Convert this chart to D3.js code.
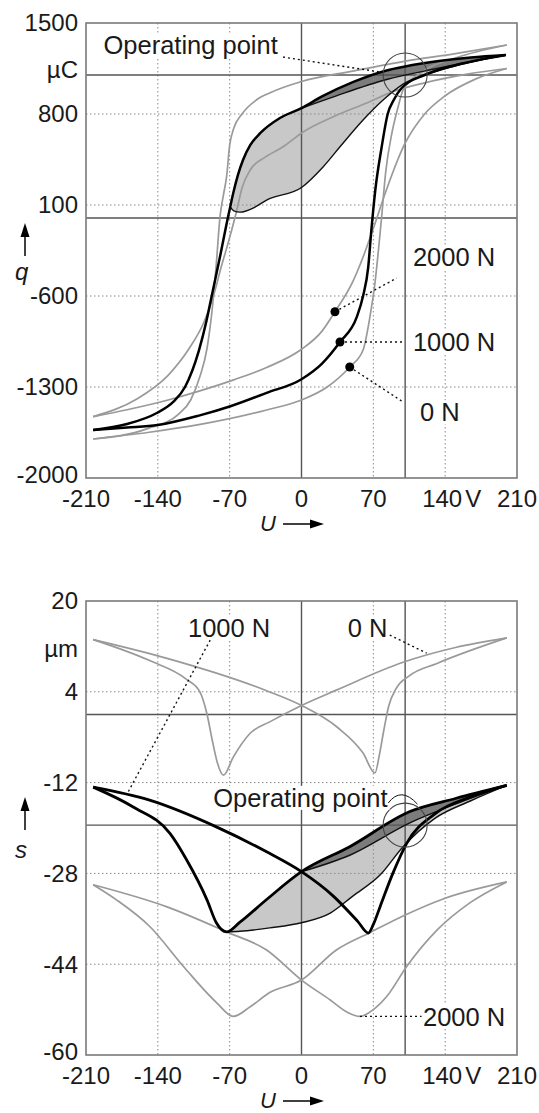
<!DOCTYPE html>
<html>
<head>
<meta charset="utf-8">
<script src="https://cdn.jsdelivr.net/npm/d3@7"></script>
<style>
  body { margin: 0; background: #fff; }
  svg text { font-family: "Liberation Sans", Arial, sans-serif; fill: #1a1a1a; }
</style>
</head>
<body>
<div id="chart"></div>
<script>
// axis ticks
const uTicks = [-210, -140, -70, 0, 70, 140, 210];
const qTicks = [1500, 800, 100, -600, -1300, -2000];
const sTicks = [20, 4, -12, -28, -44, -60];

// operating point (U in V, q in µC, s in µm)
const opU = 101, opQ = 1100, opS = -19.5;

// charge q(U), [U, q], ascending U
const q0Down = [[-203,-1700],[-150,-1620],[-120,-1510],[-108,-1400],[-99,-1220],[-92,-1000],[-87,-700],[-83,-350],[-79.4,10],[-76,180],[-73,318],[-70,560],[-66,690],[-58,800],[-44,908],[-30,965],[0,1050],[50,1130],[100,1205],[150,1265],[200,1331]];
const q0Up = [[-203,-1700],[-150,-1650],[-100,-1590],[-34,-1477],[0,-1400],[25,-1300],[47,-1146],[60,-1015],[66.7,-759],[71.6,-500],[75,-246],[78,0],[82,350],[88,650],[94,850],[99,985],[115,1110],[150,1230],[200,1331]];
const q1000Down = [[-203,-1630],[-170,-1585],[-141,-1500],[-125,-1415],[-113.5,-1300],[-100,-1020],[-92.4,-785],[-87.5,-600],[-80,-320],[-71.6,8],[-69.5,85],[-66.5,192],[-62,330],[-57,446],[-50,560],[-40,654],[-21,769],[0,845],[20,935],[50,1045],[83,1135],[101,1165],[132,1205],[165,1235],[199,1254]];
const q1000Up = [[-203,-1630],[-170,-1612],[-140,-1592],[-100,-1520],[-70,-1450],[-34,-1345],[0,-1240],[20,-1120],[37.5,-954],[54,-759],[60,-600],[65,-380],[68,-100],[72,220],[78,540],[84,800],[90,910],[97.6,1000],[120,1100],[150,1175],[199,1254]];
const q2000Down = [[-203,-1528],[-160,-1390],[-130,-1210],[-110,-1010],[-95,-800],[-86,-605],[-78,-370],[-70,-150],[-63,62],[-58,230],[-50,369],[-35,470],[-18,548],[2,664],[31,779],[63.5,885],[89,972],[120,1040],[160,1105],[200,1150]];
const q2000Up = [[-203,-1528],[-170,-1475],[-130,-1400],[-99,-1330],[-66,-1245],[-34,-1150],[0,-1010],[20,-870],[32.6,-721],[50,-490],[60,-300],[70,-80],[82,200],[100,560],[120,800],[140,940],[170,1070],[200,1150]];
const qMinorLow = [[-69.5,85],[-66,55],[-60,45],[-45,85],[-34,138],[0,235],[21,393],[37.5,548],[60,754],[79.5,908],[99,1030],[130,1125],[165,1200],[199,1254]];
const qLensLow = [[0,845],[34,940],[83,1065],[132,1150],[199,1254]];
const qDots = [[32.6,-721],[37.5,-954],[47,-1146]];

// strain s(U), [U, s], ascending U
const s0A = [[-203,13.2],[-148,9.5],[-112,6.2],[-99,4],[-92,0],[-87,-4.5],[-82,-8.5],[-76,-10.7],[-66.5,-7.5],[-50,-3.3],[-31,-1.3],[0,1.6],[34,4.3],[99,9.2],[150,11.8],[200,13.5]];
const s0B = [[-203,13.2],[-131,9.9],[-34,4.2],[0,1.6],[34.6,-2.2],[60,-6.8],[71.6,-10.3],[76,-7],[80,-3],[85,1.5],[92,4.5],[105,6.8],[132,9],[200,13.5]];
const s1000A = [[-203,-12.8],[-164,-16.3],[-128,-21],[-112,-25.6],[-92,-32.7],[-83,-36.7],[-73,-38.3],[-60,-36.6],[-34,-32.6],[0,-27.7],[47,-23.3],[105.6,-17.1],[150,-14.8],[200,-12.5]];
const s1000B = [[-203,-12.8],[-148,-15.1],[-83,-19.8],[-34,-24.2],[0,-27.7],[31,-32],[55,-36.5],[65,-38.5],[70,-37],[76.5,-33.9],[89,-28],[102.5,-22.7],[130,-17.5],[165,-14.5],[200,-12.5]];
const s2000A = [[-203,-30],[-180,-32.7],[-147.6,-37.4],[-115,-44.4],[-82.6,-50.8],[-66.5,-53.2],[-50,-51.5],[-31,-49],[0,-46.8],[34,-41.5],[67,-38.4],[99,-35.5],[138,-32.5],[200,-29.5]];
const s2000B = [[-203,-30],[-131,-33.9],[-73,-38.3],[-34,-41.5],[0,-46.8],[28,-50.3],[45,-52.5],[57,-53.2],[70,-52],[83,-49.7],[102.5,-44.4],[132,-38],[164,-33.2],[200,-29.5]];
const sMinorLow = [[-73,-38.3],[-60,-38.2],[-31,-37.6],[0,-36.7],[28,-35],[50,-32],[76.5,-28.3],[99,-23.3],[130,-18.3],[165,-15.2],[200,-12.5]];
const sLensLow = [[0,-27.7],[47,-24.8],[105.6,-19.1],[150,-15.8],[200,-12.5]];

const W = 539, H = 1113;
const svg = d3.select("#chart").append("svg").attr("width", W).attr("height", H);

function drawPanel(o) {
    const x = d3.scaleLinear([-210, 210], [86, 517]);
    const y = d3.scaleLinear(o.yDomain, [o.bottom, o.top]);
    const g = svg.append("g");
    const line = d3.line().x(d => x(d[0])).y(d => y(d[1])).curve(d3.curveMonotoneX);
    const shape = (upper, lower) => line(upper) + "L" + line(lower.slice().reverse()).slice(1) + "Z";

    // shaded minor loops
    g.append("path").attr("d", shape(o.loop.filter(d => d[0] >= o.minorLow[0][0]), o.minorLow))
        .attr("fill", "#c8c8c8");
    g.append("path").attr("d", shape(o.loop.filter(d => d[0] >= 0), o.lensLow))
        .attr("fill", "#7c7c7c");

    // dotted grid
    g.selectAll(".vg").data(uTicks.filter(t => t !== 0 && Math.abs(t) !== 210)).join("line")
        .attr("x1", d => x(d)).attr("x2", d => x(d)).attr("y1", o.top).attr("y2", o.bottom)
        .attr("stroke", "#8a8a8a").attr("stroke-width", 1).attr("stroke-dasharray", "1.5,2.5");
    g.selectAll(".hg").data(o.ticks.slice(1, -1)).join("line")
        .attr("x1", 86).attr("x2", 517).attr("y1", d => y(d)).attr("y2", d => y(d))
        .attr("stroke", "#8a8a8a").attr("stroke-width", 1).attr("stroke-dasharray", "1.5,2.5");

    // solid reference lines
    [0, opU].forEach(v => g.append("line").attr("x1", x(v)).attr("x2", x(v))
        .attr("y1", o.top).attr("y2", o.bottom).attr("stroke", "#555").attr("stroke-width", 1.4));
    [0, o.op].forEach(v => g.append("line").attr("x1", 86).attr("x2", 517)
        .attr("y1", y(v)).attr("y2", y(v)).attr("stroke", "#555").attr("stroke-width", 1.4));

    // curves
    o.gray.forEach(c => g.append("path").attr("d", line(c)).attr("fill", "none")
        .attr("stroke", "#9a9a9a").attr("stroke-width", 1.7));
    o.thin.forEach(c => g.append("path").attr("d", line(c)).attr("fill", "none")
        .attr("stroke", "#111").attr("stroke-width", 1.4));
    o.black.forEach(c => g.append("path").attr("d", line(c)).attr("fill", "none")
        .attr("stroke", "#000").attr("stroke-width", o.thick));

    // operating point circle
    g.append("circle").attr("cx", x(opU)).attr("cy", y(o.op)).attr("r", 22)
        .attr("fill", "none").attr("stroke", "#444").attr("stroke-width", 1.1);

    // frame
    g.append("rect").attr("x", 86).attr("y", o.top).attr("width", 431).attr("height", o.bottom - o.top)
        .attr("fill", "none").attr("stroke", "#7a7a7a").attr("stroke-width", 1.6);

    // tick labels
    g.selectAll(".yl").data(o.ticks).join("text")
        .attr("x", 78).attr("y", (d, i) => y(d) - (i === o.ticks.length - 1 ? 3 : 0)).attr("dy", "0.35em")
        .attr("text-anchor", "end").attr("font-size", 24).text(d => d);
    g.append("text").attr("x", 78).attr("y", y(o.unitAt)).attr("dy", "0.35em")
        .attr("text-anchor", "end").attr("font-size", 24).text(o.unit);
    g.selectAll(".xl").data(uTicks).join("text")
        .attr("x", d => x(d) - (d === 140 ? 3 : 0)).attr("y", o.bottom + 21).attr("dy", "0.35em")
        .attr("text-anchor", "middle").attr("font-size", 24).text(d => d);
    g.append("text").attr("x", x(140) + 20).attr("y", o.bottom + 21).attr("dy", "0.35em")
        .attr("font-size", 24).text("V");

    // axis names with arrows
    g.append("text").attr("x", 260).attr("y", o.bottom + 45).attr("dy", "0.35em")
        .attr("font-size", 22).attr("font-style", "italic").text("U");
    g.append("line").attr("x1", 283).attr("x2", 312).attr("y1", o.bottom + 46).attr("y2", o.bottom + 46)
        .attr("stroke", "#000").attr("stroke-width", 1.5);
    g.append("path").attr("d", `M${324},${o.bottom + 46}l-14,-4.5v9z`).attr("fill", "#000");
    g.append("text").attr("x", 15).attr("y", o.nameY).attr("dy", "0.35em")
        .attr("font-size", 24).attr("font-style", "italic").text(o.name);
    g.append("line").attr("x1", 25).attr("x2", 25).attr("y1", o.arrowY + 33).attr("y2", o.arrowY + 10)
        .attr("stroke", "#000").attr("stroke-width", 1.5);
    g.append("path").attr("d", `M25,${o.arrowY}l-4.5,14h9z`).attr("fill", "#000");

    // labels with white backing
    o.labels.forEach(l => {
        const t = g.append("text").attr("x", x(l.u)).attr("y", y(l.v)).attr("dy", "0.35em")
            .attr("font-size", 25.5).text(l.text);
        const b = t.node().getBBox();
        g.insert("rect", () => t.node()).attr("x", b.x - 2).attr("y", b.y + 2)
            .attr("width", b.width + 4).attr("height", b.height - 4).attr("fill", "#fff");
    });
    o.leaders.forEach(l => g.append("path")
        .attr("d", l.curve
            ? `M${x(l.p[0][0])},${y(l.p[0][1])}Q${x(l.p[1][0])},${y(l.p[1][1])} ${x(l.p[2][0])},${y(l.p[2][1])}`
            : d3.line()(l.p.map(p => [x(p[0]), y(p[1])])))
        .attr("fill", "none").attr("stroke", "#111").attr("stroke-width", l.curve ? 1 : 1.4)
        .attr("stroke-dasharray", l.curve ? null : "2,3"));
    g.selectAll(".dot").data(o.dots || []).join("circle")
        .attr("cx", d => x(d[0])).attr("cy", d => y(d[1])).attr("r", 4.5).attr("fill", "#000");
}

drawPanel({
    top: 23, bottom: 478, yDomain: [-2000, 1500], ticks: qTicks, op: opQ, thick: 2.5,
    unit: "\u00b5C", unitAt: 1145, name: "q", nameY: 272, arrowY: 223,
    loop: q1000Down, minorLow: qMinorLow, lensLow: qLensLow,
    gray: [q0Down, q0Up, q2000Down, q2000Up],
    thin: [qMinorLow, qLensLow],
    black: [q1000Down, q1000Up],
    dots: qDots,
    labels: [
        {u: -193, v: 1330, text: "Operating point"},
        {u: 108.6, v: -300, text: "2000 N"},
        {u: 108.6, v: -954, text: "1000 N"},
        {u: 115.5, v: -1495, text: "0 N"}
    ],
    leaders: [
        {p: [[-18, 1238], [76.5, 1123]]},
        {p: [[32.6, -721], [92.8, -462]]},
        {p: [[37.5, -954], [98.5, -954]]},
        {p: [[47, -1146], [98.5, -1413]]}
    ]
});

drawPanel({
    top: 601, bottom: 1055, yDomain: [-60, 20], ticks: sTicks, op: opS, thick: 2.8,
    unit: "\u00b5m", unitAt: 11.7, name: "s", nameY: 850, arrowY: 797,
    loop: s1000A, minorLow: sMinorLow, lensLow: sLensLow,
    gray: [s0A, s0B, s2000A, s2000B],
    thin: [sMinorLow, sLensLow],
    black: [s1000A, s1000B],
    labels: [
        {u: -110.6, v: 15.2, text: "1000 N"},
        {u: 45, v: 15.2, text: "0 N"},
        {u: 118.4, v: -53.3, text: "2000 N"},
        {u: -86, v: -14.7, text: "Operating point"}
    ],
    leaders: [
        {p: [[-89, 13.1], [-170, -14]]},
        {p: [[86, 14], [122, 10.8]]},
        {p: [[57, -53.2], [117, -53.2]]},
        {curve: true, p: [[84.5, -15.6], [97, -12.6], [113, -15.8]]}
    ]
});
</script>
</body>
</html>
